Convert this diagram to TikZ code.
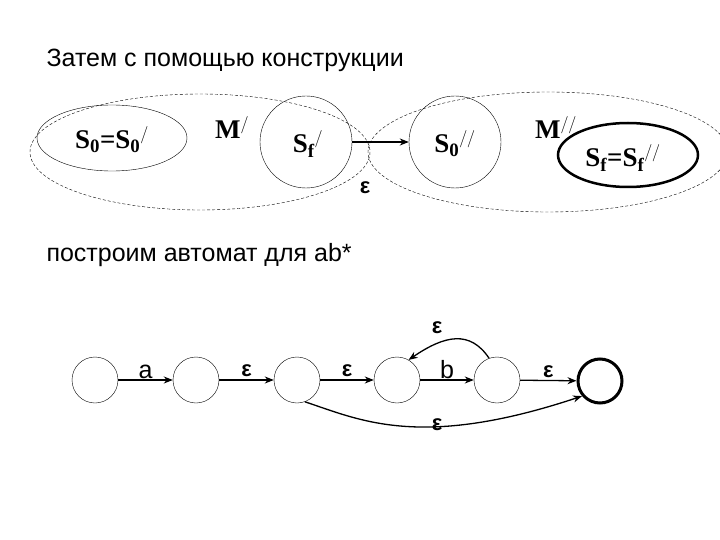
\documentclass[tikz,border=0pt]{standalone}
\usepackage{fontspec}
\setmainfont{Liberation Serif}
\newfontfamily\arial{Liberation Sans}
\usetikzlibrary{arrows.meta,shapes.geometric}
\begin{document}
\begin{tikzpicture}[x=1pt,y=-1pt,
 st/.style={draw,circle,minimum size=46pt,inner sep=0pt},
 lbl/.style={font=\arial\fontsize{25}{25}\selectfont},
 eps/.style={font=\arial\bfseries\fontsize{22}{22}\selectfont},
 ser/.style={font=\bfseries\fontsize{27}{27}\selectfont},
 ar/.style={-{Stealth[length=9pt,width=7pt]},line width=1.3pt},
 dsh/.style={draw,densely dashed,thin}]
\useasboundingbox (0,0) rectangle (720,540);
\node[lbl,anchor=west] (t1) at (43,60) {Затем с помощью конструкции};
\draw[dsh] (200,152) ellipse [x radius=170,y radius=58];
\draw[dsh] (548,152) ellipse [x radius=180,y radius=60];
\node[draw,ellipse,minimum width=150pt,minimum height=66pt,inner sep=0pt] (s0) at (112,138) {};
\node[ser] at (112,140) {S$_\mathbf{0}$=S$_\mathbf{0}$$^{/}$};
\node[ser] at (232,128) {M$^{/}$};
\node[draw,circle,minimum size=92pt,inner sep=0pt] (sf) at (306,142) {};
\node[ser] at (308,144) {S$_\mathbf{f}$$^{/}$};
\node[draw,circle,minimum size=92pt,inner sep=0pt] (s00) at (455,142) {};
\node[ser] at (455,144) {S$_\mathbf{0}$$^{//}$};
\draw[ar] (sf) -- (s00);
\node[eps] at (365,188) {ε};
\node[ser] at (556,128) {M$^{//}$};
\draw[line width=2.5pt] (628,155) ellipse [x radius=70,y radius=32];
\node[ser] at (623,158) {S$_\mathbf{f}$=S$_\mathbf{f}$$^{//}$};
\node[lbl,anchor=west] (t2) at (43,255) {построим автомат для ab*};
\node[st] (q1) at (95,380) {};
\node[st] (q2) at (196,380) {};
\node[st] (q3) at (297,380) {};
\node[st] (q4) at (397,380) {};
\node[st] (q5) at (497,380) {};
\node[circle,draw,line width=3pt,minimum size=44pt,inner sep=0pt] (q6) at (600,381) {};
\draw[ar] (q1) -- node[lbl,above=-3pt]{a} (q2);
\draw[ar] (q2) -- node[eps,above=-1pt]{ε} (q3);
\draw[ar] (q3) -- node[eps,above=-1pt]{ε} (q4);
\draw[ar] (q4) -- node[lbl,above=-3pt]{b} (q5);
\draw[ar] (q5) -- node[eps,above=-1pt]{ε} (q6);
\draw[ar] (q5.110) .. controls (470,330) and (445,335) .. (q4.60);
\node[eps] at (437,328) {ε};
\draw[ar] (q3.-70) .. controls (360,420) and (420,450) .. (q6.-140);
\node[eps] at (437,425) {ε};
\end{tikzpicture}
\end{document}
